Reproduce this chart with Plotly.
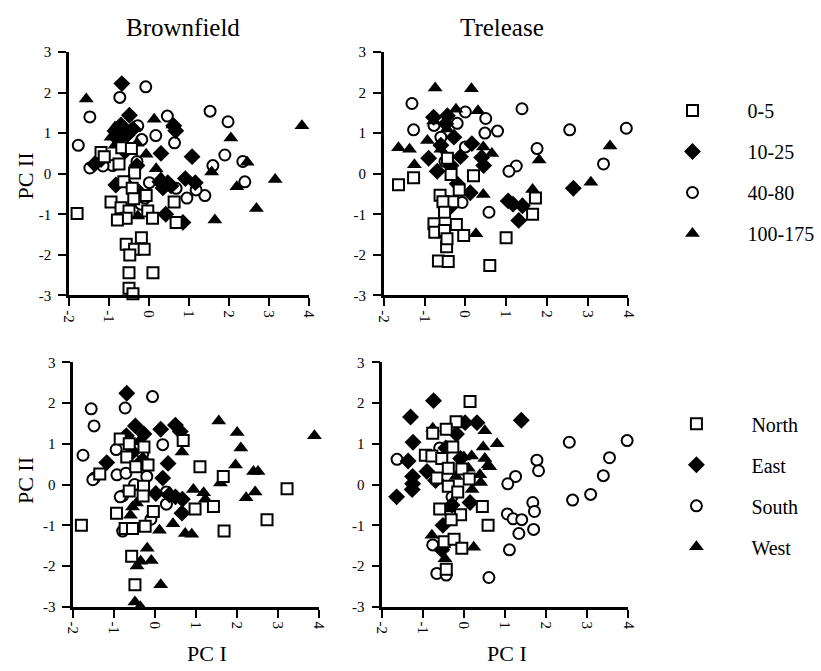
import plotly.graph_objects as go

# ---------------- Brownfield, by depth (top-left) ----------------
BF_D05_X = [-1.8, -1.2, -1.12, -0.68, -0.44, -0.75, -0.36, -0.63, -0.42, -0.07, -0.38, -0.95, 0.63, -0.7, -0.5, -0.03, -0.57, -0.79, 0.09, 0.68, -0.19, -0.57, -0.36, -0.12, -0.48, -0.5, 0.1, -0.5, -0.4]
BF_D05_Y = [-0.98, 0.52, 0.42, 0.64, 0.62, 0.24, 0.02, -0.2, -0.36, -0.54, -0.62, -0.7, -0.7, -0.84, -0.92, -0.92, -1.1, -1.14, -1.1, -1.2, -1.58, -1.74, -1.86, -1.86, -2.0, -2.44, -2.44, -2.82, -2.96]
BF_D10_X = [-0.68, -0.49, 0.62, 0.67, 0.3, 1.08, 0.91, 1.16, 0.42, 0.85, -0.83, -1.36, 0.27, 0.47, -0.85, -0.7, -0.55, -0.78, -0.4, -0.6, -0.3, 0.35, 0.55, -0.25, -1.2]
BF_D10_Y = [2.22, 1.44, 1.18, 1.06, 0.5, 0.42, -0.12, -0.22, -1.0, -1.2, -0.28, 0.24, -0.2, -0.22, 1.05, 1.2, 0.95, 0.85, 1.1, 0.55, 0.2, -0.35, -0.3, -0.45, 0.35]
BF_D40_X = [-0.08, -0.73, -1.48, 0.46, 1.53, 1.98, -0.28, 0.17, 0.64, -0.18, -1.77, -1.48, 1.9, 2.35, 1.6, 2.4, 0.68, 0.95, 1.4, 1.18, 0.01, -0.91, -0.3, -0.2, -0.1, -1.15]
BF_D40_Y = [2.14, 1.88, 1.4, 1.42, 1.54, 1.28, 1.18, 0.94, 0.76, 0.84, 0.7, 0.14, 0.46, 0.3, 0.2, -0.2, -0.36, -0.6, -0.54, -0.4, -0.22, 0.2, 0.3, -0.75, -0.6, 0.19]
BF_D100_X = [-1.57, 0.13, 3.83, 2.05, 0.18, 2.46, 1.57, 2.2, 3.16, 2.69, 1.65, -0.28, -0.07, -0.95, -0.65, -0.85, -0.3, -0.85, 0.6, -0.55, 0.3]
BF_D100_Y = [1.84, 1.34, 1.18, 0.88, 0.12, 0.28, 0.04, -0.32, -0.14, -0.86, -1.14, -1.04, 0.48, 0.9, 1.0, 0.7, 0.75, 1.15, 1.2, -0.2, -0.1]

# ---------------- Trelease, by depth (top-right) ----------------
TR_D05_X = [-1.64, -1.27, -0.44, -0.35, 0.2, -0.15, -0.62, -0.31, -0.55, -0.51, 1.72, 1.65, -0.77, -0.75, -0.51, -0.22, -0.04, -0.46, -0.66, -0.42, 1.0, 0.6, -0.45]
TR_D05_Y = [-0.27, -0.1, 0.38, -0.02, -0.05, -0.4, -0.53, -0.69, -0.69, -0.95, -0.6, -1.0, -1.23, -1.44, -1.4, -1.25, -1.52, -1.8, -2.15, -2.16, -1.58, -2.26, -1.6]
TR_D10_X = [-0.78, -0.44, -0.48, -0.9, -0.69, 0.16, 0.12, 1.05, 1.17, 1.4, 1.31, 2.65, -0.28, -0.12, 0.4, 0.45, -0.6, -0.35, -0.2, -0.4]
TR_D10_Y = [1.39, 1.43, 1.23, 0.38, 0.06, 0.74, -0.47, -0.67, -0.75, -0.79, -1.15, -0.36, 0.9, 0.42, 0.4, 0.2, 0.7, 0.2, -0.25, -0.85]
TR_D40_X = [-1.31, -1.27, 0.0, 0.5, -0.2, 0.48, 0.79, 1.39, 2.56, 3.95, 1.76, 1.25, 1.07, 3.39, 0.58, -0.08, -0.77, -0.6, 0.0, -0.5]
TR_D40_Y = [1.73, 1.08, 1.52, 1.36, 1.24, 1.0, 1.05, 1.6, 1.08, 1.12, 0.62, 0.19, 0.06, 0.24, -0.95, -0.71, 1.19, 0.9, 0.66, 0.3]
TR_D100_X = [-0.74, 0.15, -0.23, 0.31, -1.64, -1.37, -1.25, -0.93, 0.44, 1.65, 1.81, 0.26, 3.55, 3.08, 0.65, 0.44, -0.6, -0.78, -0.45]
TR_D100_Y = [2.11, 2.09, 1.59, 1.55, 0.64, 0.6, 0.22, 0.82, -0.51, -0.39, 0.34, -1.48, 0.68, -0.21, 0.5, 0.66, 0.6, 1.3, 1.1]

# ---------------- Brownfield, by direction (bottom-left) ----------------
BF_N_X = [-0.85, -0.63, -0.27, 0.69, -0.69, -0.17, -0.47, -1.35, 1.1, 1.67, 3.23, -0.63, -0.28, -0.29, 0.98, 1.43, -0.94, -0.04, 2.74, 1.69, -1.8, -0.73, -0.55, -0.24, -0.57, -0.49]
BF_N_Y = [1.12, 1.0, 0.92, 1.08, 0.68, 0.48, 0.44, 0.26, 0.44, 0.2, -0.1, -0.16, -0.04, -0.28, -0.6, -0.54, -0.7, -0.66, -0.86, -1.14, -1.0, -1.08, -1.08, -1.02, -1.76, -2.46]
BF_E_X = [-0.69, -0.48, -0.27, 0.14, 0.5, 0.62, -1.18, 0.32, 0.19, 0.02, 0.5, 0.67, 0.66, -0.7, -0.55, -0.3, 0.35]
BF_E_Y = [2.24, 1.44, 1.24, 1.36, 1.46, 1.3, 0.54, 0.52, 0.16, -0.22, -0.3, -0.36, -0.7, 1.2, 0.8, 0.6, -0.25]
BF_S_X = [-0.06, -1.56, -0.73, -1.49, 0.19, -1.76, -0.95, -1.48, -0.93, -0.71, -0.79, 0.28, 0.28, -0.79, -1.52, -0.5, -0.2, -0.85, -0.1, -0.3]
BF_S_Y = [2.16, 1.86, 1.88, 1.44, 0.98, 0.72, 0.86, 0.16, 0.24, 0.28, -0.28, -0.18, -0.48, -1.14, 0.12, 0.0, 0.2, -0.3, -0.85, 0.75]
BF_W_X = [1.56, 2.01, 3.9, 2.1, 0.66, 1.97, 2.41, 2.52, 1.6, 0.94, 1.19, 1.23, 2.45, 2.23, 0.44, 0.11, 0.74, 0.9, -0.19, -0.09, -0.35, -0.44, 0.14, -0.49, -0.36, -0.55, -0.45, -0.35, -0.6, -0.75, -0.4]
BF_W_Y = [1.56, 1.28, 1.2, 0.9, 0.8, 0.48, 0.32, 0.32, 0.04, -0.12, -0.2, -0.36, -0.18, -0.32, -0.96, -1.12, -1.2, -1.22, -1.56, -1.86, -1.88, -2.0, -2.46, -2.88, -3.0, -0.55, -0.45, -0.35, -0.75, 1.2, 1.05]

# ---------------- Trelease, by direction (bottom-right) ----------------
TR_N_X = [0.14, -0.2, -0.44, -0.77, -0.28, -0.95, -0.79, -0.55, -0.39, -0.06, 0.12, -0.67, -0.39, -0.16, 0.44, -0.6, -0.09, -0.32, 0.58, -0.49, -0.25, -0.06, -0.44]
TR_N_Y = [2.04, 1.54, 1.36, 1.26, 0.92, 0.72, 0.7, 0.64, 0.4, 0.38, 0.14, 0.16, -0.04, -0.18, -0.54, -0.6, -0.74, -0.86, -1.0, -1.4, -1.34, -1.56, -2.08]
TR_E_X = [-0.75, -1.31, 1.39, -1.25, -1.37, -0.91, -1.26, -1.26, -1.27, -1.65, 0.02, 0.31, 0.14, -0.52, -0.19, -0.09, -0.7, -0.45, -0.3, -0.55]
TR_E_Y = [2.06, 1.66, 1.58, 1.04, 0.58, 0.32, 0.2, 0.02, -0.12, -0.3, 1.52, 1.52, -0.44, -1.0, 1.24, 0.64, 0.1, 0.9, -0.5, -1.6]
TR_S_X = [-1.64, 2.56, 3.97, 3.54, 3.39, 3.08, 2.64, 1.77, 1.81, 1.25, 1.06, 1.67, 1.71, 1.05, 1.19, 1.4, 1.33, 1.69, 1.1, 0.6, -0.77, -0.67, -0.44, -0.6, -0.3]
TR_S_Y = [0.62, 1.04, 1.08, 0.66, 0.22, -0.24, -0.38, 0.6, 0.34, 0.2, 0.02, -0.44, -0.66, -0.72, -0.84, -0.86, -1.2, -1.1, -1.6, -2.28, -1.48, -2.18, -2.22, 0.9, -0.3]
TR_W_X = [-0.77, 0.5, 0.8, 0.46, 0.18, -0.01, 0.5, 0.58, 0.62, 0.38, 0.19, -0.79, 0.23, -0.47, -0.55, -0.6, -0.2, 0.4, -0.35, 0.1]
TR_W_Y = [1.38, 1.32, 1.0, 0.92, 0.7, 0.68, 0.64, 0.48, 0.44, 0.24, -0.12, -1.24, -1.54, -1.82, -1.56, 0.1, 0.2, 0.05, -0.6, 0.4]

DEPTH_LABELS = ["0-5", "10-25", "40-80", "100-175"]
DIR_LABELS = ["North", "East", "South", "West"]
TITLES = ["Brownfield", "Trelease"]
X_TICKS = [-2, -1, 0, 1, 2, 3, 4]
Y_TICKS = [-3, -2, -1, 0, 1, 2, 3]

FONT = "Liberation Serif, Times New Roman, serif"
W, H = 821, 671

# symbol styles in legend order (square, diamond, circle, triangle)
STYLES = [
    dict(symbol="square", size=11, color="white", line=dict(color="black", width=2)),
    dict(symbol="diamond", size=13, color="black", line=dict(color="black", width=0)),
    dict(symbol="circle", size=11, color="white", line=dict(color="black", width=2)),
    dict(symbol="triangle-up", size=13, color="black", line=dict(color="black", width=0)),
]
# drawing order: circles, diamonds, triangles, squares on top
DRAW_ORDER = [2, 1, 3, 0]

panels = [
    ("x", "y", [(BF_D05_X, BF_D05_Y), (BF_D10_X, BF_D10_Y), (BF_D40_X, BF_D40_Y), (BF_D100_X, BF_D100_Y)], DEPTH_LABELS, "legend", True),
    ("x2", "y2", [(TR_D05_X, TR_D05_Y), (TR_D10_X, TR_D10_Y), (TR_D40_X, TR_D40_Y), (TR_D100_X, TR_D100_Y)], DEPTH_LABELS, "legend", False),
    ("x3", "y3", [(BF_N_X, BF_N_Y), (BF_E_X, BF_E_Y), (BF_S_X, BF_S_Y), (BF_W_X, BF_W_Y)], DIR_LABELS, "legend2", True),
    ("x4", "y4", [(TR_N_X, TR_N_Y), (TR_E_X, TR_E_Y), (TR_S_X, TR_S_Y), (TR_W_X, TR_W_Y)], DIR_LABELS, "legend2", False),
]

fig = go.Figure()
for xa, ya, series, labels, leg, show in panels:
    for i in DRAW_ORDER:
        xs, ys = series[i]
        fig.add_trace(go.Scatter(
            x=xs, y=ys, mode="markers", xaxis=xa, yaxis=ya,
            marker=STYLES[i], name=labels[i], legendgroup=leg + labels[i],
            legendrank=i + 1, showlegend=show, legend=leg, cliponaxis=False,
            hoverinfo="skip",
        ))

def px_dom(a, b, total):
    return [a / total, b / total]

def py_dom(top, bottom):
    return [1 - bottom / H, 1 - top / H]

# pixel geometry of each plot area (left, right, top, bottom)
geom = {
    "": (62.3, 306.7, 45, 294.5),
    "2": (383.3, 632.7, 45, 294.5),
    "3": (66.5, 316.7, 363, 613.5),
    "4": (381.7, 632.7, 363, 613.5),
}

axis_common = dict(
    showline=True, linewidth=2.5, linecolor="black", mirror=False,
    ticks="outside", ticklen=8, tickwidth=2, tickcolor="black",
    showgrid=False, zeroline=False,
    tickfont=dict(family=FONT, size=15, color="black"),
)

layout = dict(
    width=W, height=H, margin=dict(l=0, r=0, t=0, b=0),
    plot_bgcolor="white", paper_bgcolor="white",
    font=dict(family=FONT, color="black"),
)
for k, (l, r, t, b) in geom.items():
    layout["xaxis" + k] = dict(axis_common, domain=px_dom(l, r, W), range=[-2, 4],
                               tickvals=X_TICKS, ticktext=[str(v) for v in X_TICKS],
                               tickangle=90, anchor="y" + k, ticklabelstandoff=1)
    layout["yaxis" + k] = dict(axis_common, domain=py_dom(t, b), range=[-3, 3],
                               tickvals=Y_TICKS, ticktext=[str(v) for v in Y_TICKS],
                               anchor="x" + k, ticklabelstandoff=4)

layout["legend"] = dict(
    x=642 / W, xanchor="left", y=1 - 85 / H, yanchor="top",
    font=dict(family=FONT, size=20, color="black"),
    itemwidth=100, tracegroupgap=12, traceorder="grouped",
    bgcolor="rgba(0,0,0,0)", itemclick=False,
)
layout["legend2"] = dict(
    x=646 / W, xanchor="left", y=1 - 406 / H, yanchor="top",
    font=dict(family=FONT, size=20, color="black"),
    itemwidth=100, tracegroupgap=12, traceorder="grouped",
    bgcolor="rgba(0,0,0,0)", itemclick=False,
)
fig.update_layout(**layout)

def ann(text, xpx, ypx, size, angle=0):
    fig.add_annotation(text=text, x=xpx / W, y=1 - ypx / H, xref="paper", yref="paper",
                       showarrow=False, textangle=angle, xanchor="center", yanchor="middle",
                       font=dict(family=FONT, size=size, color="black"))

ann(TITLES[0], 178, 20, 25)
ann(TITLES[1], 504, 20, 25)
ann("PC II", 18, 172, 22, -90)
ann("PC II", 18, 484, 22, -90)
ann("PC I", 203, 661, 22)
ann("PC I", 509, 661, 22)

fig.write_html("out.html")
